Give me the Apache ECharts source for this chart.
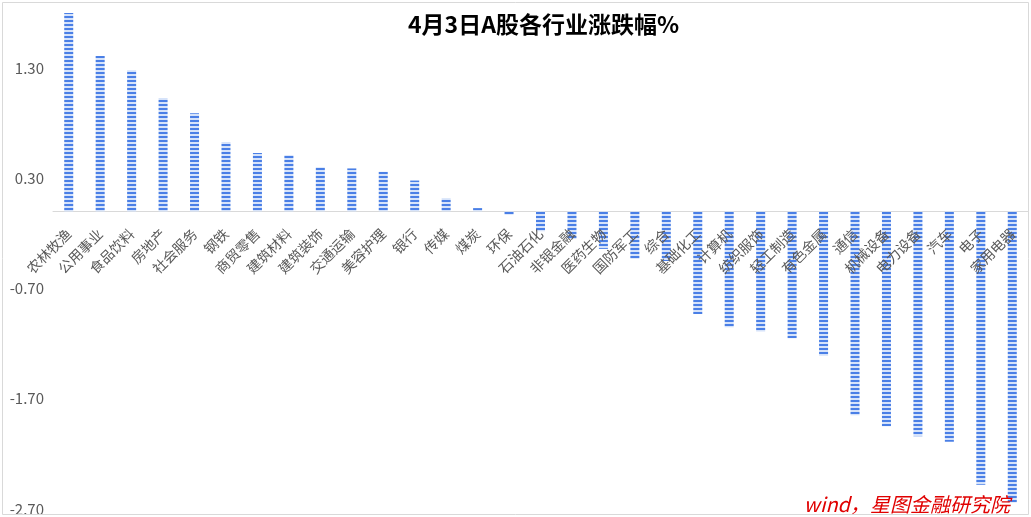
<!DOCTYPE html>
<html>
<head>
<meta charset="utf-8">
<script src="https://cdn.jsdelivr.net/npm/echarts@6/dist/echarts.min.js"></script>
<style>
html,body{margin:0;padding:0;background:#fff;}
#chart{width:1031px;height:517px;}
</style>
</head>
<body>
<div id="chart"></div>
<script>
const categories = ['农林牧渔','公用事业','食品饮料','房地产','社会服务','钢铁','商贸零售','建筑材料','建筑装饰','交通运输','美容护理','银行','传媒','煤炭','环保','石油石化','非银金融','医药生物','国防军工','综合','基础化工','计算机','纺织服饰','轻工制造','有色金属','通信','机械设备','电力设备','汽车','电子','家用电器'];
const changes = [1.80,1.41,1.28,1.03,0.89,0.63,0.53,0.51,0.40,0.39,0.36,0.28,0.12,0.03,-0.03,-0.18,-0.25,-0.34,-0.43,-0.45,-0.93,-1.05,-1.09,-1.15,-1.31,-1.85,-1.95,-2.04,-2.09,-2.48,-2.64];
const yTicks = [-2.7,-1.7,-0.7,0.3,1.3];
const titleText = '4月3日A股各行业涨跌幅%';
const sourceText = 'wind，星图金融研究院';

const Y_MIN = -2.7, Y_MAX = 1.9;
const GRID_TOP = 2, GRID_BOTTOM = 8, H = 517;
const gridH = H - GRID_TOP - GRID_BOTTOM;
const zeroOffset = -((0 - Y_MIN) / (Y_MAX - Y_MIN)) * gridH;

// striped fill pattern
const pat = document.createElement('canvas');
pat.width = 4; pat.height = 4;
const pctx = pat.getContext('2d');
pctx.fillStyle = '#d6e3fa';
pctx.fillRect(0,0,4,4);
pctx.fillStyle = '#4a7fe6';
pctx.fillRect(0,0,4,2);

const chart = echarts.init(document.getElementById('chart'), null, {renderer:'canvas'});
const font = '"Noto Sans CJK SC","Microsoft YaHei",sans-serif';
chart.setOption({
  backgroundColor:'#ffffff',
  animation:false,
  title:{
    text:titleText, left:403, top:8,
    textStyle:{fontFamily:font, fontSize:23, fontWeight:'bold', color:'#000'}
  },
  grid:{left:53, right:3, top:GRID_TOP, bottom:GRID_BOTTOM, containLabel:false, outerBoundsMode:'none'},
  xAxis:[{
    type:'category', data:categories,
    axisLine:{onZero:true, lineStyle:{color:'#d9d9d9', width:1}},
    axisTick:{show:false},
    axisLabel:{show:false}
  },{
    type:'category', data:categories, position:'bottom', offset:zeroOffset, z:10,
    axisLine:{show:false, onZero:false},
    axisTick:{show:false},
    axisLabel:{interval:0, rotate:45, margin:20, fontFamily:font, fontSize:14, color:'#595959'}
  }],
  yAxis:{
    type:'value', min:Y_MIN, max:Y_MAX, interval:1,
    axisLine:{show:false}, axisTick:{show:false}, splitLine:{show:false},
    axisLabel:{showMaxLabel:false, margin:9, fontFamily:font, fontSize:15, color:'#595959',
      formatter:v=>v.toFixed(2)}
  },
  series:[{
    type:'bar', data:changes, barWidth:9, xAxisIndex:0, z:2,
    itemStyle:{color:{image:pat, repeat:'repeat'}}
  }],
  graphic:[
    {type:'text', right:21, bottom:3, z:100,
      style:{text:sourceText, fontFamily:font, fontSize:20, fontStyle:'italic', fill:'#e00000'}},
    {type:'rect', left:0, top:514, z:90, shape:{width:1031, height:3}, style:{fill:'#fff'}},
    {type:'rect', left:0, top:0, z:95, silent:true, shape:{x:1.5,y:1.5,width:1026,height:512}, style:{fill:'none', stroke:'#d9d9d9', lineWidth:1}}
  ]
});
</script>
</body>
</html>
